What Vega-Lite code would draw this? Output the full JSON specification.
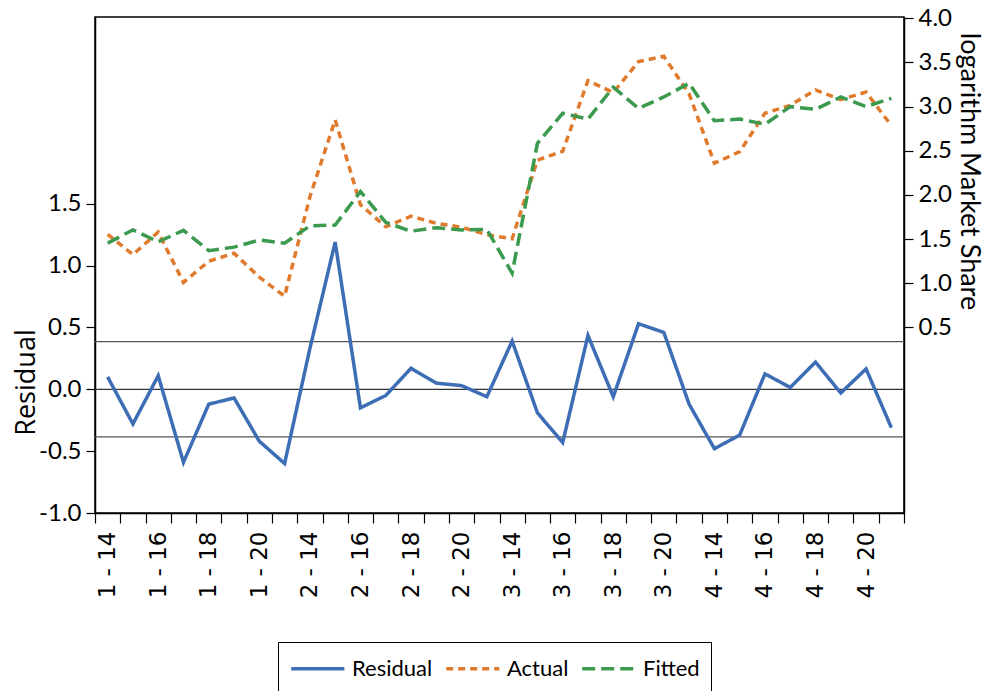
{
  "$schema": "https://vega.github.io/schema/vega-lite/v6.json",
  "width": 809,
  "height": 496,
  "autosize": {"type": "none"},
  "padding": {"left": 95, "top": 17, "right": 83, "bottom": 178},
  "background": "white",
  "config": {
    "view": {"stroke": "black", "strokeWidth": 1.5},
    "axis": {"grid": false, "domainColor": "black", "domainWidth": 1.5, "tickColor": "black", "labelColor": "black", "titleColor": "black", "titleFontWeight": "normal"},
    "legend": {
      "orient": "none", "legendX": 183, "legendY": 625, "direction": "horizontal",
      "title": null, "strokeColor": "black", "padding": 11,
      "symbolType": "M-1,0H3", "symbolSize": 706, "symbolStrokeWidth": 3.5,
      "labelFont": "Lato", "labelFontSize": 22, "labelColor": "black",
      "columnPadding": 6, "labelOffset": 32
    }
  },
  "datasets": {
    "main": [
      {"t": "1 - 14", "Residual": 0.10, "Actual": 1.555, "Fitted": 1.455},
      {"t": "1 - 15", "Residual": -0.28, "Actual": 1.325, "Fitted": 1.605},
      {"t": "1 - 16", "Residual": 0.11, "Actual": 1.58, "Fitted": 1.47},
      {"t": "1 - 17", "Residual": -0.59, "Actual": 1.01, "Fitted": 1.60},
      {"t": "1 - 18", "Residual": -0.12, "Actual": 1.25, "Fitted": 1.37},
      {"t": "1 - 19", "Residual": -0.07, "Actual": 1.34, "Fitted": 1.41},
      {"t": "1 - 20", "Residual": -0.42, "Actual": 1.07, "Fitted": 1.49},
      {"t": "1 - 21", "Residual": -0.60, "Actual": 0.855, "Fitted": 1.455},
      {"t": "2 - 14", "Residual": 0.33, "Actual": 1.98, "Fitted": 1.65},
      {"t": "2 - 15", "Residual": 1.19, "Actual": 2.85, "Fitted": 1.66},
      {"t": "2 - 16", "Residual": -0.15, "Actual": 1.89, "Fitted": 2.04},
      {"t": "2 - 17", "Residual": -0.05, "Actual": 1.64, "Fitted": 1.69},
      {"t": "2 - 18", "Residual": 0.17, "Actual": 1.76, "Fitted": 1.59},
      {"t": "2 - 19", "Residual": 0.05, "Actual": 1.68, "Fitted": 1.63},
      {"t": "2 - 20", "Residual": 0.03, "Actual": 1.635, "Fitted": 1.605},
      {"t": "2 - 21", "Residual": -0.06, "Actual": 1.55, "Fitted": 1.61},
      {"t": "3 - 14", "Residual": 0.39, "Actual": 1.505, "Fitted": 1.115},
      {"t": "3 - 15", "Residual": -0.19, "Actual": 2.395, "Fitted": 2.585},
      {"t": "3 - 16", "Residual": -0.43, "Actual": 2.495, "Fitted": 2.925},
      {"t": "3 - 17", "Residual": 0.435, "Actual": 3.295, "Fitted": 2.86},
      {"t": "3 - 18", "Residual": -0.06, "Actual": 3.16, "Fitted": 3.22},
      {"t": "3 - 19", "Residual": 0.53, "Actual": 3.51, "Fitted": 2.98},
      {"t": "3 - 20", "Residual": 0.46, "Actual": 3.57, "Fitted": 3.11},
      {"t": "3 - 21", "Residual": -0.12, "Actual": 3.145, "Fitted": 3.265},
      {"t": "4 - 14", "Residual": -0.48, "Actual": 2.36, "Fitted": 2.84},
      {"t": "4 - 15", "Residual": -0.37, "Actual": 2.49, "Fitted": 2.86},
      {"t": "4 - 16", "Residual": 0.125, "Actual": 2.925, "Fitted": 2.80},
      {"t": "4 - 17", "Residual": 0.015, "Actual": 3.015, "Fitted": 3.0},
      {"t": "4 - 18", "Residual": 0.22, "Actual": 3.19, "Fitted": 2.97},
      {"t": "4 - 19", "Residual": -0.03, "Actual": 3.08, "Fitted": 3.11},
      {"t": "4 - 20", "Residual": 0.165, "Actual": 3.165, "Fitted": 3.0},
      {"t": "4 - 21", "Residual": -0.31, "Actual": 2.785, "Fitted": 3.095}
    ],
    "zero": [{"v": 0}],
    "sd": [{"v": 0.385}, {"v": -0.385}]
  },
  "layer": [
    {
      "layer": [
        {
          "data": {"name": "zero"},
          "mark": {"type": "rule", "stroke": "#333333", "strokeWidth": 1.3},
          "encoding": {
            "y": {
              "field": "v", "type": "quantitative",
              "scale": {"domain": [-1.0, 3.01], "nice": false, "zero": false},
              "axis": {
                "orient": "left", "values": [-1, -0.5, 0, 0.5, 1, 1.5],
                "labelExpr": "replace(format(datum.value, '.1f'), '\u2212', '-')",
                "labelFont": "Lato", "labelFontSize": 24, "labelPadding": 5,
                "tickSize": 9, "tickWidth": 1.2,
                "title": "Residual", "titleFont": "Open Sans", "titleFontSize": 27,
                "titleAngle": -90, "titleX": -69, "titleY": 365, "titleBaseline": "middle", "titleAlign": "center"
              }
            }
          }
        },
        {
          "data": {"name": "sd"},
          "mark": {"type": "rule", "stroke": "#555555", "strokeWidth": 1.3},
          "encoding": {"y": {"field": "v", "type": "quantitative"}}
        },
        {
          "data": {"name": "main"},
          "transform": [
            {"fold": ["Residual", "Actual", "Fitted"], "as": ["series", "value"]},
            {"filter": "datum.series === 'Residual'"}
          ],
          "mark": {"type": "line", "strokeWidth": 3.5},
          "encoding": {
            "x": {
              "field": "t", "type": "ordinal", "sort": null,
              "scale": {"type": "band", "paddingInner": 0, "paddingOuter": 0},
              "axis": {
                "title": null, "labelAngle": -90, "tickBand": "extent",
                "labelExpr": "toNumber(split(datum.value, ' - ')[1]) % 2 == 0 ? datum.value : ''",
                "labelFont": "DejaVu Sans", "labelFontSize": 23, "labelPadding": 8,
                "tickSize": 10, "tickWidth": 1.2
              }
            },
            "y": {"field": "value", "type": "quantitative"},
            "color": {
              "field": "series", "type": "nominal",
              "scale": {"domain": ["Residual", "Actual", "Fitted"], "range": ["#3C6DB5", "#E07B2E", "#3B9A4E"]}
            },
            "strokeDash": {
              "field": "series", "type": "nominal",
              "scale": {"domain": ["Residual", "Actual", "Fitted"], "range": [[1, 0], [7, 5], [13, 6]]}
            }
          }
        }
      ]
    },
    {
      "data": {"name": "main"},
      "transform": [
        {"fold": ["Residual", "Actual", "Fitted"], "as": ["series", "value"]},
        {"filter": "datum.series !== 'Residual'"}
      ],
      "mark": {"type": "line", "strokeWidth": 3.5},
      "encoding": {
        "x": {"field": "t", "type": "ordinal", "sort": null},
        "y": {
          "field": "value", "type": "quantitative",
          "scale": {"domain": [-1.6, 4.015], "nice": false, "zero": false},
          "axis": {
            "orient": "right", "values": [0.5, 1, 1.5, 2, 2.5, 3, 3.5, 4],
            "format": ".1f",
            "labelFont": "Lato", "labelFontSize": 24, "labelPadding": 5,
            "tickSize": 9, "tickWidth": 1.2,
            "title": "logarithm Market Share", "titleFont": "Lato", "titleFontSize": 27,
            "titleAngle": 90, "titleX": 64, "titleY": 154, "titleBaseline": "middle", "titleAlign": "center"
          }
        },
        "color": {"field": "series", "type": "nominal"},
        "strokeDash": {"field": "series", "type": "nominal"}
      }
    }
  ],
  "resolve": {"scale": {"y": "independent"}}
}
